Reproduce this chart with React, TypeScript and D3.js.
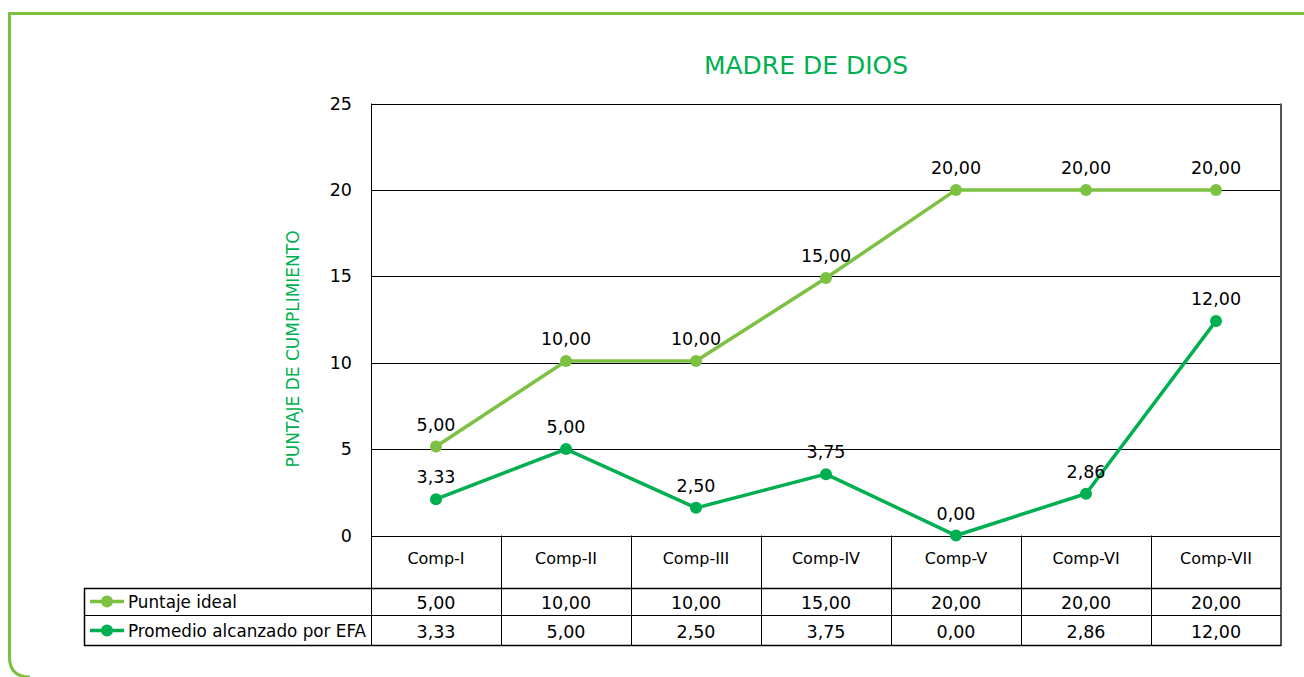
import * as d3 from "d3";

const categories = ["Comp-I", "Comp-II", "Comp-III", "Comp-IV", "Comp-V", "Comp-VI", "Comp-VII"];
// values as plotted in the picture (points do not sit exactly on their labels)
const idealPlotted = [5.15, 10.1, 10.1, 14.9, 20, 20, 20];
const promedioPlotted = [2.1, 5.0, 1.6, 3.55, 0, 2.42, 12.42];
// values as printed in the labels and the data table
const idealLabels = ["5,00", "10,00", "10,00", "15,00", "20,00", "20,00", "20,00"];
const promedioLabels = ["3,33", "5,00", "2,50", "3,75", "0,00", "2,86", "12,00"];
const yTicks = [0, 5, 10, 15, 20, 25];

const series = [
  { name: "Puntaje ideal", color: "#7cc142", values: idealPlotted, labels: idealLabels },
  { name: "Promedio alcanzado por EFA", color: "#00b050", values: promedioPlotted, labels: promedioLabels },
];

const W = 1304;
const H = 677;
const plot = { left: 371, right: 1281, top: 103.5, bottom: 535.5 };
const tableLeft = 84;
const headerBottom = 588;
const rowH = 29;
const font = "'DejaVu Sans', sans-serif";

export default function App() {
  const x = d3.scaleBand<string>().domain(categories).range([plot.left, plot.right]);
  const y = d3.scaleLinear().domain([0, 25]).range([plot.bottom, plot.top]);
  const cx = (i: number) => x(categories[i])! + x.bandwidth() / 2;
  const line = d3
    .line<number>()
    .x((_, i) => cx(i))
    .y((d) => y(d));

  return (
    <svg width={W} height={H} style={{ position: "absolute", left: 0, top: 0 }} fontFamily={font}>
      <rect width={W} height={H} fill="#fff" />
      {/* frame */}
      <path
        d={`M${W + 5},13.5 H9.5 V657 Q9.5,677 30,677`}
        fill="none"
        stroke="#7cc142"
        strokeWidth={3}
      />
      <text x={806} y={74} textAnchor="middle" fontSize={25} fill="#00b050">
        MADRE DE DIOS
      </text>
      <text
        transform="translate(299,349) rotate(-90)"
        textAnchor="middle"
        fontSize={17}
        fill="#00b050"
      >
        PUNTAJE DE CUMPLIMIENTO
      </text>

      {/* grid + y axis */}
      {yTicks.map((t) => (
        <g key={t}>
          <line x1={plot.left} x2={plot.right} y1={Math.round(y(t)) + 0.5} y2={Math.round(y(t)) + 0.5} stroke="#000" />
          <text x={352} y={y(t) + 6} textAnchor="end" fontSize={17.5} fill="#000">
            {t}
          </text>
        </g>
      ))}
      <line x1={plot.left + 0.5} x2={plot.left + 0.5} y1={plot.top} y2={plot.bottom} stroke="#000" />
      <line x1={plot.right} x2={plot.right} y1={plot.top} y2={headerBottom + rowH * 2} stroke="#555" strokeWidth={2} />

      {/* series */}
      {series.map((s) => (
        <g key={s.name}>
          <path d={line(s.values)!} fill="none" stroke={s.color} strokeWidth={3.5} />
          {s.values.map((v, i) => (
            <circle key={i} cx={cx(i)} cy={y(v)} r={6} fill={s.color} />
          ))}
          {s.values.map((v, i) => (
            <text key={"l" + i} x={cx(i)} y={y(v) - 16} textAnchor="middle" fontSize={17.5} fill="#000">
              {s.labels[i]}
            </text>
          ))}
        </g>
      ))}

      {/* data table */}
      <g stroke="#000" strokeWidth={1}>
        {categories.map((c) => (
          <line
            key={c}
            x1={x(c)! + 0.5}
            x2={x(c)! + 0.5}
            y1={plot.bottom}
            y2={headerBottom + rowH * 2}
          />
        ))}
        <line x1={tableLeft} x2={plot.right} y1={headerBottom + 0.5} y2={headerBottom + 0.5} strokeWidth={1.5} />
        <line x1={tableLeft} x2={plot.right} y1={headerBottom + rowH - 1.5} y2={headerBottom + rowH - 1.5} />
        <line x1={tableLeft} x2={plot.right} y1={headerBottom + rowH * 2 - 0.5} y2={headerBottom + rowH * 2 - 0.5} strokeWidth={1.5} />
        <line x1={tableLeft + 0.5} x2={tableLeft + 0.5} y1={headerBottom} y2={headerBottom + rowH * 2} strokeWidth={1.5} />
      </g>
      {categories.map((c, i) => (
        <text key={c} x={cx(i)} y={564} textAnchor="middle" fontSize={16} fill="#000">
          {c}
        </text>
      ))}
      {series.map((s, r) => {
        const cy = headerBottom + rowH * r + rowH / 2 - 1;
        return (
          <g key={s.name}>
            <line x1={90} x2={124} y1={cy} y2={cy} stroke={s.color} strokeWidth={3.5} />
            <circle cx={107} cy={cy} r={6} fill={s.color} />
            <text x={128} y={cy + 6} fontSize={16.8} fill="#000">
              {s.name}
            </text>
            {s.labels.map((l, i) => (
              <text key={i} x={cx(i)} y={cy + 7} textAnchor="middle" fontSize={17.5} fill="#000">
                {l}
              </text>
            ))}
          </g>
        );
      })}
    </svg>
  );
}
